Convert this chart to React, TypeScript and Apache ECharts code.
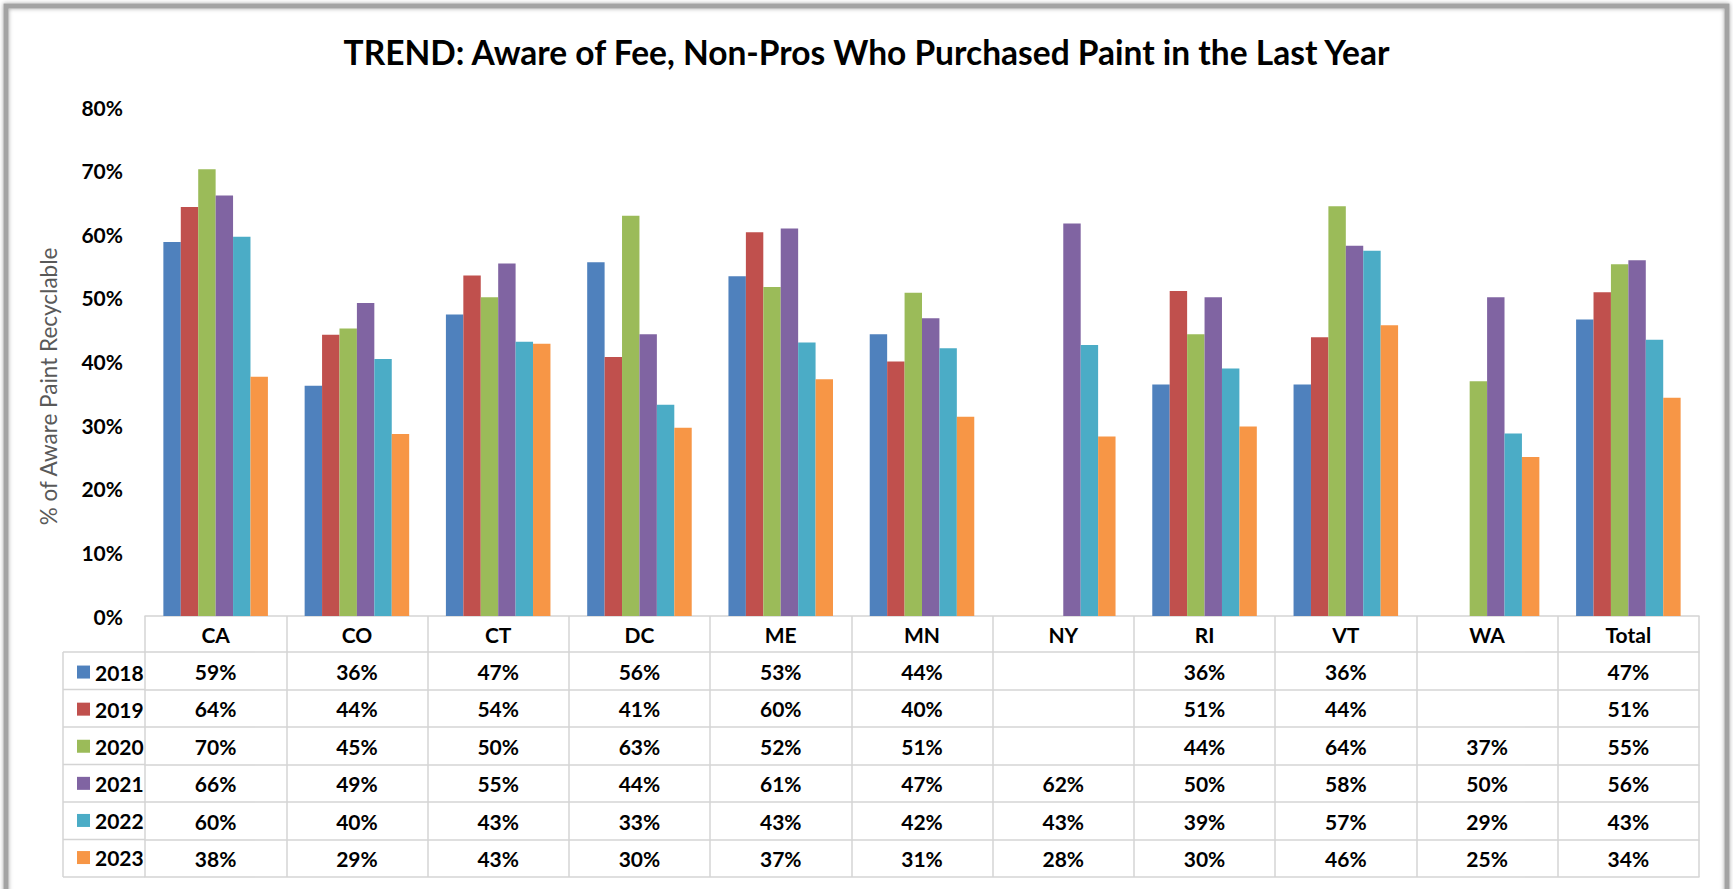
import React, { useEffect, useRef } from "react";
import * as echarts from "echarts";

const title = "TREND: Aware of Fee, Non-Pros Who Purchased Paint in the Last Year";
const yAxisName = "% of Aware Paint Recyclable";
const categories = ["CA", "CO", "CT", "DC", "ME", "MN", "NY", "RI", "VT", "WA", "Total"];
const years = ["2018", "2019", "2020", "2021", "2022", "2023"];
const v2018 = [58.8, 36.2, 47.4, 55.6, 53.4, 44.3, null, 36.4, 36.4, null, 46.6];
const v2019 = [64.3, 44.2, 53.5, 40.7, 60.3, 40.0, null, 51.1, 43.8, null, 50.9];
const v2020 = [70.2, 45.2, 50.1, 62.9, 51.7, 50.8, null, 44.3, 64.4, 36.9, 55.3];
const v2021 = [66.1, 49.2, 55.4, 44.3, 60.9, 46.8, 61.7, 50.1, 58.2, 50.1, 55.9];
const v2022 = [59.6, 40.4, 43.1, 33.2, 43.0, 42.1, 42.6, 38.9, 57.4, 28.7, 43.4];
const v2023 = [37.6, 28.6, 42.8, 29.6, 37.2, 31.3, 28.2, 29.8, 45.7, 25.0, 34.3];
const seriesValues = [v2018, v2019, v2020, v2021, v2022, v2023];
const colors = ["#4F81BD", "#C0504D", "#9BBB59", "#8064A2", "#4BACC6", "#F79646"];
const yTicks = { min: 0, max: 80, interval: 10 };

// layout
const W = 1733;
const H = 889;
const GRID_LEFT = 145;
const GRID_RIGHT_X = 1699;
const PLOT_TOP = 107;
const PLOT_BOTTOM = 616;
const HEADER_H = 36;
const ROW_H = 37.5;
const LEGEND_LEFT = 63;
const FONT = "Lato, 'Open Sans', sans-serif";
const BORDER = "#d4d4d4";
const TXT = 21;

export default function App() {
  const ref = useRef<HTMLDivElement>(null);
  useEffect(() => {
    if (!ref.current) return;
    const chart = echarts.init(ref.current, null, { renderer: "svg" });

    const fmt = (v: number | null) => (v == null ? "" : Math.round(v) + "%");

    const rowAxes = years.map((y, k) => ({
      type: "category",
      gridIndex: 0,
      position: "bottom",
      offset: HEADER_H + ROW_H * k,
      data: seriesValues[k].map(fmt),
      axisLine: { show: true, onZero: false, lineStyle: { color: BORDER, width: 1.5 } },
      axisTick: { show: true, interval: 0, length: ROW_H, lineStyle: { color: BORDER, width: 1.5 } },
      axisLabel: {
        show: true,
        interval: 0,
        margin: 8.5,
        color: "#000",
        fontFamily: FONT,
        fontWeight: "bold",
        fontSize: TXT,
      },
      splitLine: { show: false },
    }));

    const bottomAxis = {
      type: "category",
      gridIndex: 0,
      position: "bottom",
      offset: HEADER_H + ROW_H * years.length,
      data: categories,
      axisLine: { show: true, onZero: false, lineStyle: { color: BORDER, width: 1.5 } },
      axisTick: { show: false },
      axisLabel: { show: false },
      splitLine: { show: false },
    };

    const tableTop = PLOT_BOTTOM + HEADER_H;
    const graphics: any[] = [
      {
        type: "rect",
        shape: { x: 6, y: 6, width: W - 12, height: H + 20 },
        style: { fill: "none", stroke: "#a3a3a3", lineWidth: 5, shadowBlur: 4, shadowColor: "rgba(0,0,0,0.35)" },
        silent: true,
      },
      {
        type: "line",
        shape: { x1: LEGEND_LEFT, y1: tableTop, x2: LEGEND_LEFT, y2: tableTop + ROW_H * years.length },
        style: { stroke: BORDER, lineWidth: 1.5 },
        silent: true,
      },
    ];
    for (let k = 0; k <= years.length; k++) {
      graphics.push({
        type: "line",
        shape: { x1: LEGEND_LEFT, y1: tableTop + ROW_H * k, x2: GRID_LEFT, y2: tableTop + ROW_H * k },
        style: { stroke: BORDER, lineWidth: 1.5 },
        silent: true,
      });
    }

    chart.setOption({
      animation: false,
      backgroundColor: "#fff",
      title: {
        text: title,
        left: "center",
        top: 30,
        textStyle: { fontFamily: FONT, fontWeight: "bold", fontSize: 33.5, color: "#000" },
      },
      legend: {
        orient: "vertical",
        left: 72,
        top: tableTop + ROW_H / 2 - 14.2,
        itemWidth: 13,
        itemHeight: 13,
        itemGap: 16.1,
        icon: "rect",
        selectedMode: false,
        data: years,
        textStyle: { fontFamily: FONT, fontWeight: "bold", fontSize: TXT, color: "#000", lineHeight: 20 },
      },
      grid: {
        left: GRID_LEFT,
        right: W - GRID_RIGHT_X,
        top: PLOT_TOP,
        bottom: H - PLOT_BOTTOM,
        containLabel: false,
      },
      xAxis: [
        {
          type: "category",
          gridIndex: 0,
          position: "bottom",
          data: categories,
          axisLine: { show: true, onZero: false, lineStyle: { color: BORDER, width: 1.5 } },
          axisTick: { show: true, interval: 0, length: HEADER_H, lineStyle: { color: BORDER, width: 1.5 } },
          axisLabel: {
            interval: 0,
            margin: 8,
            color: "#000",
            fontFamily: FONT,
            fontWeight: "bold",
            fontSize: TXT,
          },
          splitLine: { show: false },
        },
        ...rowAxes,
        bottomAxis,
      ],
      yAxis: {
        type: "value",
        min: yTicks.min,
        max: yTicks.max,
        interval: yTicks.interval,
        name: yAxisName,
        nameLocation: "middle",
        nameRotate: 90,
        nameGap: 85,
        nameTextStyle: {
          fontFamily: FONT,
          fontSize: 22.5,
          color: "#595959",
          padding: [0, 50, 0, 0],
        },
        axisLine: { show: false },
        axisTick: { show: false },
        splitLine: { show: false },
        axisLabel: {
          formatter: "{value}%",
          margin: 22,
          color: "#000",
          fontFamily: FONT,
          fontWeight: "bold",
          fontSize: TXT,
        },
      },
      series: years.map((y, i) => ({
        name: y,
        type: "bar",
        xAxisIndex: 0,
        yAxisIndex: 0,
        data: seriesValues[i],
        barGap: "0%",
        barCategoryGap: "26%",
        itemStyle: { color: colors[i] },
      })),
      graphic: graphics,
    });

    return () => chart.dispose();
  }, []);

  return (
    <div
      ref={ref}
      style={{ position: "fixed", left: 0, top: 0, width: W + "px", height: H + "px" }}
    />
  );
}
